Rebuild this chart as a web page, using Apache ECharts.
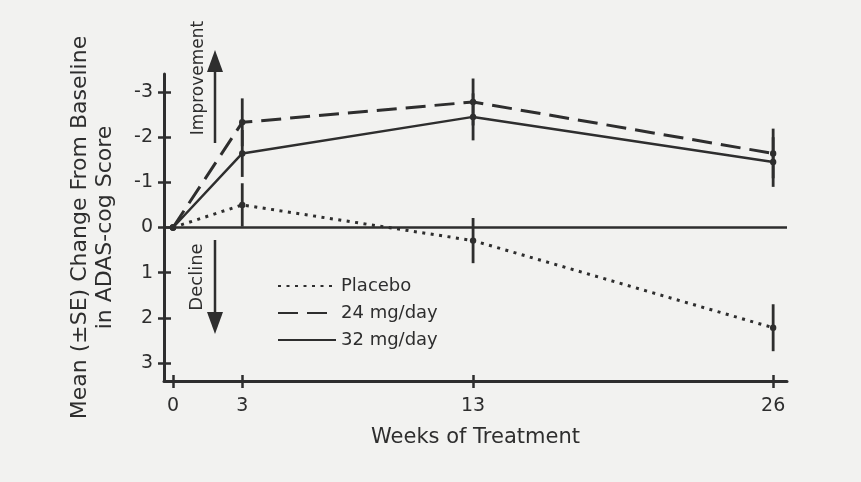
<!DOCTYPE html>
<html>
<head>
<meta charset="utf-8">
<script src="https://cdn.jsdelivr.net/npm/echarts@6/dist/echarts.min.js"></script>
<style>
html,body{margin:0;padding:0;background:#f2f2f0;}
#chart{width:861px;height:482px;}
</style>
</head>
<body>
<div id="chart"></div>
<script>
// ---- data ----
var weeks = [0, 3, 13, 26];
var xTicks = [0, 3, 13, 26];
var yTicks = [-3, -2, -1, 0, 1, 2, 3];
var seriesNames = ['Placebo', '24 mg/day', '32 mg/day'];
var placebo = [0, -0.5, 0.29, 2.22];
var placeboSE = [0, 0.48, 0.5, 0.52];
var mg24 = [0, -2.33, -2.78, -1.64];
var mg24SE = [0, 0.53, 0.52, 0.55];
var mg32 = [0, -1.64, -2.45, -1.45];
var mg32SE = [0, 0.52, 0.52, 0.55];

var INK = '#2e2e2e';
var FONT = 'DejaVu Sans';
var GRID = { left: 164, right: 74, top: 74, bottom: 101 };
var W = 861, H = 482;
var gridW = W - GRID.left - GRID.right;
var gridH = H - GRID.top - GRID.bottom;

function pairs(vals) {
  return weeks.map(function (w, i) { return [w, vals[i]]; });
}
function errData(vals, se) {
  return weeks.map(function (w, i) { return [w, vals[i] - se[i], vals[i] + se[i], vals[i]]; });
}
function errSeries(vals, se) {
  return {
    type: 'custom',
    silent: true,
    xAxisIndex: 0, yAxisIndex: 0,
    z: 5,
    data: errData(vals, se),
    renderItem: function (params, api) {
      var x = api.value(0);
      var lo = api.coord([x, api.value(1)]);
      var hi = api.coord([x, api.value(2)]);
      var c = api.coord([x, api.value(3)]);
      var children = [
        { type: 'circle', shape: { cx: c[0], cy: c[1], r: 3.2 }, style: { fill: INK } }
      ];
      if (api.value(2) !== api.value(1)) {
        children.push({ type: 'line', shape: { x1: lo[0], y1: lo[1], x2: hi[0], y2: hi[1] },
          style: { stroke: INK, lineWidth: 2.8 } });
      }
      return { type: 'group', children: children };
    }
  };
}

var chart = echarts.init(document.getElementById('chart'), null, { renderer: 'canvas' });

var xBase = {
  type: 'value', min: -0.39, max: 26.6,
  splitLine: { show: false }
};
var yBase = {
  type: 'value', min: -3.4, max: 3.4, inverse: true,
  splitLine: { show: false }
};

var option = {
  backgroundColor: '#f2f2f0',
  animation: false,
  textStyle: { fontFamily: FONT, color: INK },
  grid: { left: GRID.left, right: GRID.right, top: GRID.top, bottom: GRID.bottom, containLabel: false },
  xAxis: [
    Object.assign({}, xBase, {
      position: 'bottom',
      name: 'Weeks of Treatment', nameLocation: 'middle', nameGap: 46,
      nameTextStyle: { fontSize: 21, color: INK, fontFamily: FONT },
      axisLine: { show: true, onZero: false, lineStyle: { color: INK, width: 3 } },
      axisTick: { show: true, inside: false, length: 7, customValues: xTicks, lineStyle: { color: INK, width: 2.5 } },
      axisLabel: { show: true, customValues: xTicks, margin: 16, fontSize: 19, color: INK, fontFamily: FONT }
    }),
    Object.assign({}, xBase, {
      position: 'top', offset: -gridH,
      axisLine: { show: false, onZero: false },
      axisTick: { show: true, inside: false, length: 6, customValues: xTicks, lineStyle: { color: INK, width: 2.5 } },
      axisLabel: { show: false }
    })
  ],
  yAxis: [
    Object.assign({}, yBase, {
      position: 'left',
      name: 'Mean (\u00B1SE) Change From Baseline\nin ADAS-cog Score',
      nameLocation: 'middle', nameRotate: 90, nameGap: 46,
      nameTextStyle: { fontSize: 22, lineHeight: 25, color: INK, fontFamily: FONT },
      axisLine: { show: true, onZero: false, lineStyle: { color: INK, width: 3 } },
      axisTick: { show: true, inside: false, length: 6, customValues: yTicks, lineStyle: { color: INK, width: 2.5 } },
      axisLabel: { show: true, customValues: yTicks, margin: 11, fontSize: 19, color: INK, fontFamily: FONT,
        formatter: function (v) { return String(v); } }
    }),
    Object.assign({}, yBase, {
      position: 'right', offset: -gridW,
      axisLine: { show: false, onZero: false },
      axisTick: { show: true, inside: false, length: 7, customValues: yTicks, lineStyle: { color: INK, width: 2.5 } },
      axisLabel: { show: false }
    })
  ],
  legend: {
    orient: 'vertical', left: 272, top: 272,
    itemWidth: 58, itemHeight: 14, itemGap: 9,
    itemStyle: { color: 'rgba(0,0,0,0)', borderWidth: 0, opacity: 0 },
    textStyle: { fontSize: 18, color: INK, fontFamily: FONT },
    data: seriesNames
  },
  graphic: [
    { type: 'text', x: 199, y: 78, rotation: Math.PI / 2,
      style: { text: 'Improvement', fontSize: 17, fontFamily: FONT, fill: INK, textAlign: 'center', textVerticalAlign: 'middle' } },
    { type: 'text', x: 197, y: 277, rotation: Math.PI / 2,
      style: { text: 'Decline', fontSize: 18, fontFamily: FONT, fill: INK, textAlign: 'center', textVerticalAlign: 'middle' } },
    { type: 'line', shape: { x1: 215, y1: 143, x2: 215, y2: 68 }, style: { stroke: INK, lineWidth: 2.5 } },
    { type: 'polygon', shape: { points: [[215, 50], [207, 72], [223, 72]] }, style: { fill: INK } },
    { type: 'line', shape: { x1: 215, y1: 240, x2: 215, y2: 315 }, style: { stroke: INK, lineWidth: 2.5 } },
    { type: 'polygon', shape: { points: [[215, 334], [207, 312], [223, 312]] }, style: { fill: INK } }
  ],
  series: [
    {
      name: 'Placebo', type: 'line', data: pairs(placebo), symbol: 'none', z: 3,
      lineStyle: { color: INK, width: 3, type: [3, 5.5], cap: 'butt' },
      itemStyle: { color: INK },
      markLine: {
        silent: true, symbol: ['none', 'none'], label: { show: false },
        lineStyle: { color: INK, width: 2.5, type: 'solid' },
        data: [{ yAxis: 0 }]
      }
    },
    {
      name: '24 mg/day', type: 'line', data: pairs(mg24), symbol: 'none', z: 3,
      lineStyle: { color: INK, width: 3, type: [20, 9] },
      itemStyle: { color: INK }
    },
    {
      name: '32 mg/day', type: 'line', data: pairs(mg32), symbol: 'none', z: 3,
      lineStyle: { color: INK, width: 2.5, type: 'solid' },
      itemStyle: { color: INK }
    },
    errSeries(placebo, placeboSE),
    errSeries(mg24, mg24SE),
    errSeries(mg32, mg32SE)
  ]
};
chart.setOption(option);
</script>
</body>
</html>
